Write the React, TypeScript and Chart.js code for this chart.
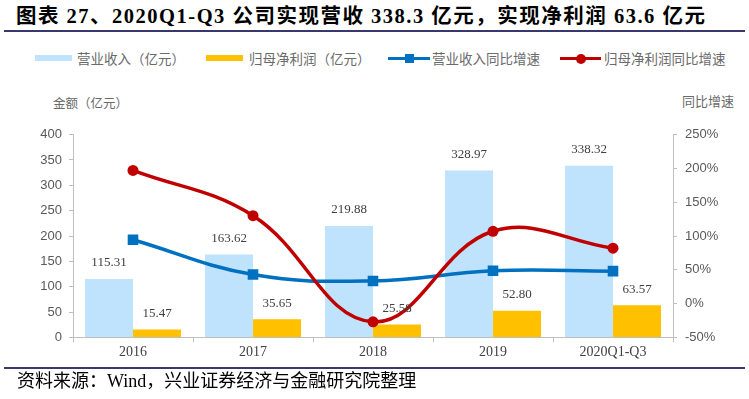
import React, { useEffect, useRef } from "react";
import { Chart, registerables } from "chart.js";

Chart.register(...registerables);

const categories = ["2016", "2017", "2018", "2019", "2020Q1-Q3"];
const revenue = [115.31, 163.62, 219.88, 328.97, 338.32];
const netProfit = [15.47, 35.65, 25.58, 52.8, 63.57];
const revenueGrowth = [94.5, 43, 33.5, 48.5, 48];
const profitGrowth = [197, 130, -27, 107, 82];
const leftTicks = { min: 0, max: 400, step: 50 };
const rightTicks = { min: -50, max: 250, step: 50 };

const C_REV = "#BFE3FC";
const C_NP = "#FFC000";
const C_RG = "#0070C0";
const C_PG = "#C00000";
const AXIS = "#BFBFBF";
const TXT = "#595959";

const barLabels = {
  id: "barLabels",
  afterDatasetsDraw(chart: any) {
    const ctx = chart.ctx;
    ctx.save();
    ctx.font = '13px "Liberation Serif", "Times New Roman", serif';
    ctx.fillStyle = "#404040";
    ctx.textAlign = "center";
    ctx.textBaseline = "middle";
    chart.data.datasets.forEach((ds: any, i: number) => {
      if (ds.type !== "bar") return;
      const meta = chart.getDatasetMeta(i);
      meta.data.forEach((el: any, j: number) => {
        ctx.fillText(Number(ds.data[j]).toFixed(2), el.x, el.y - 16);
      });
    });
    ctx.restore();
  },
};

export default function App() {
  const ref = useRef<HTMLCanvasElement>(null);
  useEffect(() => {
    document.body.style.margin = "0";
    const chart = new Chart(ref.current!, {
      type: "bar",
      data: {
        labels: categories,
        datasets: [
          {
            type: "line",
            label: "归母净利润同比增速",
            data: profitGrowth,
            yAxisID: "y1",
            borderColor: C_PG,
            backgroundColor: C_PG,
            borderWidth: 3.5,
            tension: 0.4,
            pointStyle: "circle",
            pointRadius: 5.5,
            pointBorderWidth: 0,
            order: 0,
          } as any,
          {
            type: "line",
            label: "营业收入同比增速",
            data: revenueGrowth,
            yAxisID: "y1",
            borderColor: C_RG,
            backgroundColor: C_RG,
            borderWidth: 3.5,
            tension: 0.4,
            pointStyle: "rect",
            pointRadius: 7.5,
            pointBorderWidth: 0,
            order: 1,
          } as any,
          {
            type: "bar",
            label: "营业收入（亿元）",
            data: revenue,
            yAxisID: "y",
            backgroundColor: C_REV,
            categoryPercentage: 0.8,
            barPercentage: 1.0,
            order: 2,
          } as any,
          {
            type: "bar",
            label: "归母净利润（亿元）",
            data: netProfit,
            yAxisID: "y",
            backgroundColor: C_NP,
            categoryPercentage: 0.8,
            barPercentage: 1.0,
            order: 2,
          } as any,
        ],
      },
      options: {
        animation: false,
        responsive: false,
        devicePixelRatio: 1,
        layout: { padding: { top: 134.6, left: 0, right: 0, bottom: 0 } },
        plugins: {
          legend: { display: false },
          title: { display: false },
          tooltip: { enabled: false },
        },
        scales: {
          x: {
            offset: true,
            grid: {
              offset: true,
              drawOnChartArea: false,
              drawTicks: true,
              tickLength: 5,
              color: AXIS,
            },
            border: { display: true, color: AXIS, width: 1 },
            ticks: {
              padding: 2,
              color: "#404040",
              font: { family: '"Liberation Serif", "Times New Roman", serif', size: 14 },
            },
            afterFit(scale: any) {
              scale.height = 399 - 337.4;
            },
          },
          y: {
            position: "left",
            min: leftTicks.min,
            max: leftTicks.max,
            ticks: {
              stepSize: leftTicks.step,
              padding: 7,
              color: TXT,
              font: { family: '"Liberation Sans", Arial, sans-serif', size: 13 },
            },
            grid: { drawOnChartArea: false, drawTicks: true, tickLength: 4, color: AXIS },
            border: { display: true, color: AXIS, width: 1 },
            afterFit(scale: any) {
              scale.width = 73;
            },
          },
          y1: {
            position: "right",
            min: rightTicks.min,
            max: rightTicks.max,
            ticks: {
              stepSize: rightTicks.step,
              padding: 8,
              color: TXT,
              font: { family: '"Liberation Sans", Arial, sans-serif', size: 13 },
              callback: (v: any) => v + "%",
            },
            grid: { drawOnChartArea: false, drawTicks: true, tickLength: 4, color: AXIS },
            border: { display: true, color: AXIS, width: 1 },
            afterFit(scale: any) {
              scale.width = 749 - 673;
            },
          },
        },
      } as any,
      plugins: [barLabels],
    });
    return () => chart.destroy();
  }, []);

  const legendText: React.CSSProperties = {
    position: "absolute",
    top: 49,
    fontSize: 13.5,
    lineHeight: "18px",
    color: "#6a6a6a",
    fontFamily: '"Noto Sans CJK SC", sans-serif',
    whiteSpace: "nowrap",
  };
  const cjkSerif = '"Liberation Serif", "Times New Roman", "Noto Sans CJK SC", serif';

  return (
    <div style={{ position: "relative", width: 749, height: 399, overflow: "hidden", background: "#fff" }}>
      <div
        style={{
          position: "absolute",
          left: 16,
          top: 3,
          fontSize: 20.5,
          letterSpacing: 1.5,
          lineHeight: "26px",
          fontWeight: "bold",
          fontFamily: cjkSerif,
          color: "#000",
          whiteSpace: "nowrap",
        }}
      >
        图表 27、2020Q1-Q3 公司实现营收 338.3 亿元，实现净利润 63.6 亿元
      </div>
      <div style={{ position: "absolute", left: 4, top: 29.5, width: 741, height: 2, background: "#38386F" }} />

      <div style={{ position: "absolute", left: 35, top: 55, width: 37, height: 6, background: C_REV }} />
      <div style={{ ...legendText, left: 77 }}>营业收入（亿元）</div>
      <div style={{ position: "absolute", left: 206, top: 55, width: 37, height: 6, background: C_NP }} />
      <div style={{ ...legendText, left: 249 }}>归母净利润（亿元）</div>
      <div style={{ position: "absolute", left: 388, top: 56.5, width: 42, height: 3.5, background: C_RG }} />
      <div style={{ position: "absolute", left: 405, top: 54, width: 9, height: 9, background: C_RG }} />
      <div style={{ ...legendText, left: 432 }}>营业收入同比增速</div>
      <div style={{ position: "absolute", left: 560, top: 56.5, width: 41, height: 3.5, background: C_PG }} />
      <div style={{ position: "absolute", left: 575.5, top: 53.5, width: 10, height: 10, borderRadius: 5, background: C_PG }} />
      <div style={{ ...legendText, left: 604 }}>归母净利润同比增速</div>

      <div style={{ ...legendText, top: 94, left: 53, fontSize: 12.5 }}>金额（亿元）</div>
      <div style={{ ...legendText, top: 92, left: 682, fontSize: 13 }}>同比增速</div>

      <canvas ref={ref} width={749} height={399} style={{ position: "absolute", left: 0, top: 0, width: 749, height: 399 }} />

      <div style={{ position: "absolute", left: 4, top: 367, width: 741, height: 2, background: "#38386F" }} />
      <div
        style={{
          position: "absolute",
          left: 17,
          top: 369,
          fontSize: 18,
          lineHeight: "24px",
          fontFamily: cjkSerif,
          color: "#000",
          whiteSpace: "nowrap",
        }}
      >
        资料来源：Wind，兴业证券经济与金融研究院整理
      </div>
    </div>
  );
}
